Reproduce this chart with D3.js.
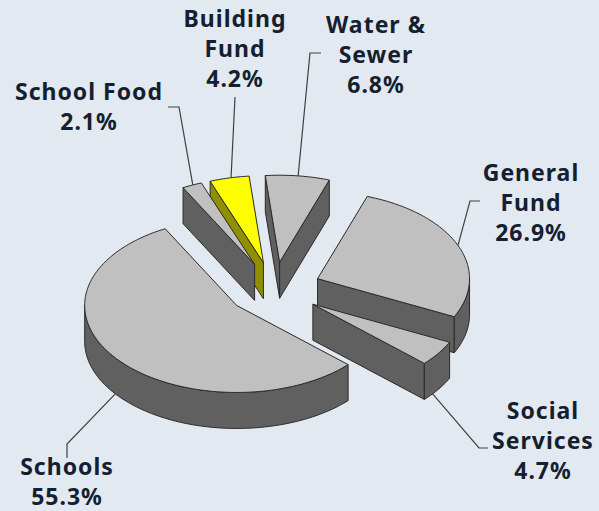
<!DOCTYPE html>
<html>
<head>
<meta charset="utf-8">
<script src="https://cdn.jsdelivr.net/npm/d3@7"></script>
<style>
html,body{margin:0;padding:0;background:#e2e9f0;overflow:hidden}
svg{display:block}
text{font-family:"Noto Sans",sans-serif;font-weight:700;font-size:23px;letter-spacing:1px;fill:#14202f;text-anchor:middle}
</style>
</head>
<body>
<svg id="chart" width="599" height="511"></svg>
<script>
// Budget shares, clockwise from the top of the pie
const categories = ["Water & Sewer", "General Fund", "Social Services", "Schools", "School Food", "Building Fund"];
const shares = [6.8, 26.9, 4.7, 55.3, 2.1, 4.2];
const labelLines = [["Water &", "Sewer", "6.8%"], ["General", "Fund", "26.9%"], ["Social", "Services", "4.7%"], ["Schools", "55.3%"], ["School Food", "2.1%"], ["Building", "Fund", "4.2%"]];
const topColors = ["#c0c0c0", "#c0c0c0", "#c0c0c0", "#c0c0c0", "#c0c0c0", "#ffff00"];
const sideColors = ["#606060", "#606060", "#606060", "#606060", "#606060", "#8f8f00"];

// Layout: pie centre, radii of the tilted ellipse, extrusion depth and slice explosion
const cx = 274, cy = 289, rx = 152, ry = 87, depth = 36, explode = 0.31;
const startAngle = -5.4 * Math.PI / 180;

// Label anchors and leader elbows, in the same order as the categories
const labelAnchors = [[376, 33], [531, 181], [543, 419], [67, 475], [89, 100], [235, 27]];
const lineHeight = 30;
const leaderBends = [[[310, 53], [321, 53]], [[470, 201], [480, 201]], [[479, 448], [488, 448]], [[67, 444], [67, 458]], [[179, 107], [168, 107]], [[235, 97]]];
const leaderAngles = [7 * Math.PI / 180, 67.5 * Math.PI / 180, 128 * Math.PI / 180, 233 * Math.PI / 180, 336 * Math.PI / 180, 347.7 * Math.PI / 180];

const svg = d3.select("#chart");
const TAU = 2 * Math.PI;
const pie = d3.pie().sort(null).startAngle(startAngle).endAngle(startAngle + TAU);
const arcs = pie(shares).map((d, i) => {
  const mid = (d.startAngle + d.endAngle) / 2;
  return {
    i, a0: d.startAngle, a1: d.endAngle,
    ox: cx + explode * rx * Math.sin(mid),
    oy: cy - explode * ry * Math.cos(mid)
  };
});

const rim = (s, a, drop = 0) => [s.ox + rx * Math.sin(a), s.oy - ry * Math.cos(a) + drop];
const path = d3.line();

function arcPoints(s, a0, a1, drop = 0) {
  const n = Math.max(2, Math.ceil((a1 - a0) / 0.02));
  return d3.range(n + 1).map(k => rim(s, a0 + (a1 - a0) * k / n, drop));
}

function poly(pts, fill) {
  svg.append("path")
    .attr("d", path(pts) + "Z")
    .attr("fill", fill)
    .attr("stroke", "#2a2a2a")
    .attr("stroke-width", 1)
    .attr("stroke-linejoin", "round");
}

function wall(s, a) {
  const p = rim(s, a);
  poly([[s.ox, s.oy], p, [p[0], p[1] + depth], [s.ox, s.oy + depth]], sideColors[s.i]);
}

function drawSlice(s) {
  // A radial wall faces the viewer only on the matching half of the ellipse
  if (Math.sin(s.a0) < 0) wall(s, s.a0);
  if (Math.sin(s.a1) > 0) wall(s, s.a1);
  // Outer wall: the part of the rim on the near side
  const lo = Math.max(s.a0, Math.PI / 2), hi = Math.min(s.a1, 1.5 * Math.PI);
  if (hi > lo) {
    poly(arcPoints(s, lo, hi).concat(arcPoints(s, lo, hi, depth).reverse()), sideColors[s.i]);
  }
  poly([[s.ox, s.oy]].concat(arcPoints(s, s.a0, s.a1)), topColors[s.i]);
}

// Leader lines go underneath the slices
arcs.forEach(s => {
  const a = leaderAngles[s.i];
  const near = Math.cos(a) < 0;
  const pts = [rim(s, a, near ? depth : 0)].concat(leaderBends[s.i]);
  svg.append("path")
    .attr("d", path(pts))
    .attr("fill", "none")
    .attr("stroke", "#404040")
    .attr("stroke-width", 1.2);
});

// Painter's order: School Food lies over the Building Fund wall
[0, 1, 2, 3, 5, 4].forEach(i => drawSlice(arcs[i]));

// Labels
labelLines.forEach((lines, i) => {
  const [x, y] = labelAnchors[i];
  const t = svg.append("text").attr("aria-label", categories[i]);
  lines.forEach((line, k) => {
    t.append("tspan").attr("x", x).attr("y", y + k * lineHeight).text(line);
  });
});
</script>
</body>
</html>
